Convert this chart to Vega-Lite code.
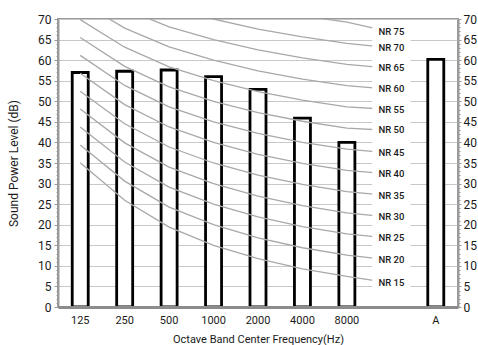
{
  "$schema": "https://vega.github.io/schema/vega-lite/v6.json",
  "width": 400,
  "height": 288,
  "autosize": "none",
  "padding": {"left": 58, "top": 19, "right": 20, "bottom": 38},
  "background": "white",
  "config": {
    "view": {"stroke": "#9a9a9a", "strokeWidth": 2},
    "font": "Roboto",
    "axis": {"labelFont": "Roboto", "titleFont": "Roboto", "labelColor": "#1a1a1a", "titleColor": "#1a1a1a", "titleFontWeight": "normal"}
  },
  "datasets": {
    "bars": [
      {"cat": "125", "level": 57.0},
      {"cat": "250", "level": 57.3},
      {"cat": "500", "level": 57.6},
      {"cat": "1000", "level": 56.0},
      {"cat": "2000", "level": 52.9},
      {"cat": "4000", "level": 45.9},
      {"cat": "8000", "level": 40.0},
      {"cat": "A", "level": 60.2}
    ],
    "nr": [
      {"nr": "NR 15", "cat": "125", "value": 35.05}, {"nr": "NR 15", "cat": "250", "value": 25.95}, {"nr": "NR 15", "cat": "500", "value": 19.41}, {"nr": "NR 15", "cat": "1000", "value": 15}, {"nr": "NR 15", "cat": "2000", "value": 11.73}, {"nr": "NR 15", "cat": "4000", "value": 9.28}, {"nr": "NR 15", "cat": "8000", "value": 7.45}, {"nr": "NR 15", "cat": " ", "value": 5.8},
      {"nr": "NR 20", "cat": "125", "value": 39.4}, {"nr": "NR 20", "cat": "250", "value": 30.6}, {"nr": "NR 20", "cat": "500", "value": 24.28}, {"nr": "NR 20", "cat": "1000", "value": 20}, {"nr": "NR 20", "cat": "2000", "value": 16.8}, {"nr": "NR 20", "cat": "4000", "value": 14.4}, {"nr": "NR 20", "cat": "8000", "value": 12.6}, {"nr": "NR 20", "cat": " ", "value": 11.4},
      {"nr": "NR 25", "cat": "125", "value": 43.75}, {"nr": "NR 25", "cat": "250", "value": 35.25}, {"nr": "NR 25", "cat": "500", "value": 29.15}, {"nr": "NR 25", "cat": "1000", "value": 25}, {"nr": "NR 25", "cat": "2000", "value": 21.88}, {"nr": "NR 25", "cat": "4000", "value": 19.53}, {"nr": "NR 25", "cat": "8000", "value": 17.75}, {"nr": "NR 25", "cat": " ", "value": 16.7},
      {"nr": "NR 30", "cat": "125", "value": 48.1}, {"nr": "NR 30", "cat": "250", "value": 39.9}, {"nr": "NR 30", "cat": "500", "value": 34.02}, {"nr": "NR 30", "cat": "1000", "value": 30}, {"nr": "NR 30", "cat": "2000", "value": 26.95}, {"nr": "NR 30", "cat": "4000", "value": 24.65}, {"nr": "NR 30", "cat": "8000", "value": 22.9}, {"nr": "NR 30", "cat": " ", "value": 21.8},
      {"nr": "NR 35", "cat": "125", "value": 52.45}, {"nr": "NR 35", "cat": "250", "value": 44.55}, {"nr": "NR 35", "cat": "500", "value": 38.89}, {"nr": "NR 35", "cat": "1000", "value": 35}, {"nr": "NR 35", "cat": "2000", "value": 32.03}, {"nr": "NR 35", "cat": "4000", "value": 29.78}, {"nr": "NR 35", "cat": "8000", "value": 28.05}, {"nr": "NR 35", "cat": " ", "value": 27.0},
      {"nr": "NR 40", "cat": "125", "value": 56.8}, {"nr": "NR 40", "cat": "250", "value": 49.2}, {"nr": "NR 40", "cat": "500", "value": 43.76}, {"nr": "NR 40", "cat": "1000", "value": 40}, {"nr": "NR 40", "cat": "2000", "value": 37.1}, {"nr": "NR 40", "cat": "4000", "value": 34.9}, {"nr": "NR 40", "cat": "8000", "value": 33.2}, {"nr": "NR 40", "cat": " ", "value": 32.3},
      {"nr": "NR 45", "cat": "125", "value": 61.15}, {"nr": "NR 45", "cat": "250", "value": 53.85}, {"nr": "NR 45", "cat": "500", "value": 48.63}, {"nr": "NR 45", "cat": "1000", "value": 45}, {"nr": "NR 45", "cat": "2000", "value": 42.18}, {"nr": "NR 45", "cat": "4000", "value": 40.03}, {"nr": "NR 45", "cat": "8000", "value": 38.35}, {"nr": "NR 45", "cat": " ", "value": 37.4},
      {"nr": "NR 50", "cat": "125", "value": 65.5}, {"nr": "NR 50", "cat": "250", "value": 58.5}, {"nr": "NR 50", "cat": "500", "value": 53.5}, {"nr": "NR 50", "cat": "1000", "value": 50}, {"nr": "NR 50", "cat": "2000", "value": 47.25}, {"nr": "NR 50", "cat": "4000", "value": 45.15}, {"nr": "NR 50", "cat": "8000", "value": 43.5}, {"nr": "NR 50", "cat": " ", "value": 42.9},
      {"nr": "NR 55", "cat": "125", "value": 69.85}, {"nr": "NR 55", "cat": "250", "value": 63.15}, {"nr": "NR 55", "cat": "500", "value": 58.37}, {"nr": "NR 55", "cat": "1000", "value": 55}, {"nr": "NR 55", "cat": "2000", "value": 52.33}, {"nr": "NR 55", "cat": "4000", "value": 50.28}, {"nr": "NR 55", "cat": "8000", "value": 48.65}, {"nr": "NR 55", "cat": " ", "value": 48.0},
      {"nr": "NR 60", "cat": "125", "value": 74.2}, {"nr": "NR 60", "cat": "250", "value": 67.8}, {"nr": "NR 60", "cat": "500", "value": 63.24}, {"nr": "NR 60", "cat": "1000", "value": 60}, {"nr": "NR 60", "cat": "2000", "value": 57.4}, {"nr": "NR 60", "cat": "4000", "value": 55.4}, {"nr": "NR 60", "cat": "8000", "value": 53.8}, {"nr": "NR 60", "cat": " ", "value": 52.9},
      {"nr": "NR 65", "cat": "125", "value": 78.55}, {"nr": "NR 65", "cat": "250", "value": 72.45}, {"nr": "NR 65", "cat": "500", "value": 68.11}, {"nr": "NR 65", "cat": "1000", "value": 65}, {"nr": "NR 65", "cat": "2000", "value": 62.48}, {"nr": "NR 65", "cat": "4000", "value": 60.53}, {"nr": "NR 65", "cat": "8000", "value": 58.95}, {"nr": "NR 65", "cat": " ", "value": 58.0},
      {"nr": "NR 70", "cat": "125", "value": 82.9}, {"nr": "NR 70", "cat": "250", "value": 77.1}, {"nr": "NR 70", "cat": "500", "value": 72.98}, {"nr": "NR 70", "cat": "1000", "value": 70}, {"nr": "NR 70", "cat": "2000", "value": 67.55}, {"nr": "NR 70", "cat": "4000", "value": 65.65}, {"nr": "NR 70", "cat": "8000", "value": 64.1}, {"nr": "NR 70", "cat": " ", "value": 63.0},
      {"nr": "NR 75", "cat": "125", "value": 87.25}, {"nr": "NR 75", "cat": "250", "value": 81.75}, {"nr": "NR 75", "cat": "500", "value": 77.85}, {"nr": "NR 75", "cat": "1000", "value": 75}, {"nr": "NR 75", "cat": "2000", "value": 72.63}, {"nr": "NR 75", "cat": "4000", "value": 70.78}, {"nr": "NR 75", "cat": "8000", "value": 69.25}, {"nr": "NR 75", "cat": " ", "value": 66.8}
    ]
  },
  "encoding": {
    "x": {
      "field": "cat",
      "type": "nominal",
      "sort": null,
      "scale": {"domain": ["125", "250", "500", "1000", "2000", "4000", "8000", " ", "A"], "paddingInner": 0, "paddingOuter": 0},
      "axis": {
        "title": "Octave Band Center Frequency(Hz)",
        "labelAngle": 0,
        "ticks": false,
        "domainColor": "#8c8c8c",
        "domainWidth": 3,
        "zindex": 1,
        "labelFontSize": 11,
        "labelPadding": 7,
        "titleFontSize": 11,
        "titlePadding": 8
      }
    }
  },
  "layer": [
    {
      "data": {"name": "bars"},
      "mark": {"type": "bar", "width": {"band": 0.36}, "fill": "white", "stroke": "black", "strokeWidth": 2.8},
      "encoding": {
        "y": {
          "field": "level",
          "type": "quantitative",
          "scale": {"domain": [0, 70], "nice": false},
          "axis": {
            "orient": "left",
            "values": [0, 5, 10, 15, 20, 25, 30, 35, 40, 45, 50, 55, 60, 65, 70],
            "grid": true,
            "gridColor": "#c8c8c8",
            "gridWidth": 1,
            "tickSize": 4,
            "tickColor": "#9a9a9a",
            "domainColor": "#9a9a9a",
            "domainWidth": 2,
            "labelFontSize": 12,
            "labelPadding": 3,
            "title": "Sound Power Level (dB)",
            "titleFontSize": 12,
            "titlePadding": 17
          }
        }
      }
    },
    {
      "data": {"name": "nr"},
      "mark": {"type": "line", "clip": true, "stroke": "#a8a8a8", "strokeWidth": 1.3},
      "encoding": {
        "detail": {"field": "nr"},
        "order": {"value": null},
        "y": {
          "field": "value",
          "type": "quantitative",
          "scale": {"domain": [0, 70], "nice": false},
          "axis": {
            "orient": "left",
            "values": [0,1,2,3,4,5,6,7,8,9,10,11,12,13,14,15,16,17,18,19,20,21,22,23,24,25,26,27,28,29,30,31,32,33,34,35,36,37,38,39,40,41,42,43,44,45,46,47,48,49,50,51,52,53,54,55,56,57,58,59,60,61,62,63,64,65,66,67,68,69,70],
            "labels": false,
            "grid": false,
            "domain": false,
            "tickSize": 2,
            "tickColor": "#9a9a9a",
            "title": null
          }
        }
      }
    },
    {
      "data": {"values": [{"cat": " "}]},
      "mark": {"type": "bar", "width": {"band": 0.86}, "fill": "white", "stroke": null},
      "encoding": {
        "y": {
          "datum": 0,
          "type": "quantitative",
          "scale": {"domain": [0, 70], "nice": false},
          "axis": {
            "orient": "right",
            "values": [0, 5, 10, 15, 20, 25, 30, 35, 40, 45, 50, 55, 60, 65, 70],
            "grid": false,
            "tickSize": 3,
            "tickColor": "#9a9a9a",
            "domainColor": "#9a9a9a",
            "domainWidth": 2,
            "labelFontSize": 12,
            "labelPadding": 2,
            "title": null
          }
        },
        "y2": {"datum": 69.7}
      }
    },
    {
      "data": {"name": "nr"},
      "transform": [{"filter": "datum.cat === ' '"}],
      "mark": {"type": "text", "fontSize": 9.5, "fontWeight": 500, "color": "#1a1a1a", "baseline": "middle", "align": "center"},
      "encoding": {
        "text": {"field": "nr"},
        "y": {
          "field": "value",
          "type": "quantitative",
          "scale": {"domain": [0, 70], "nice": false},
          "axis": {
            "orient": "right",
            "values": [0,1,2,3,4,5,6,7,8,9,10,11,12,13,14,15,16,17,18,19,20,21,22,23,24,25,26,27,28,29,30,31,32,33,34,35,36,37,38,39,40,41,42,43,44,45,46,47,48,49,50,51,52,53,54,55,56,57,58,59,60,61,62,63,64,65,66,67,68,69,70],
            "labels": false,
            "grid": false,
            "domain": false,
            "tickSize": 2,
            "tickColor": "#9a9a9a",
            "title": null
          }
        }
      }
    }
  ],
  "resolve": {"axis": {"y": "independent"}}
}
